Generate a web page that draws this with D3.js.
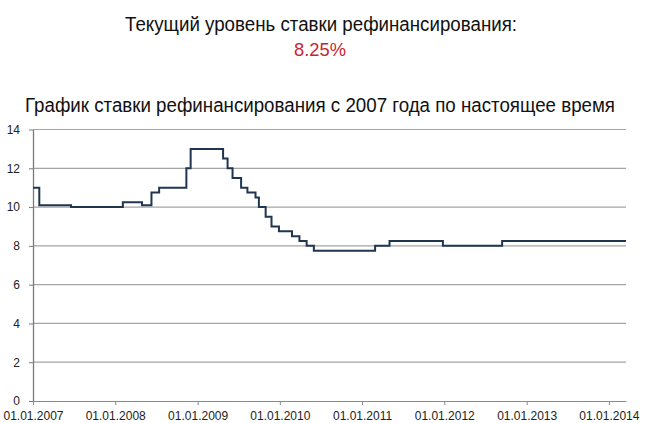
<!DOCTYPE html>
<html><head><meta charset="utf-8">
<script src="https://cdn.jsdelivr.net/npm/d3@7"></script>
<style>body{margin:0;background:#fff}svg{display:block}</style>
</head><body>
<svg id="c" width="670" height="423"></svg>
<script>
const dates = ["2007-01-01","2007-01-29","2007-06-19","2008-02-04","2008-04-29","2008-06-10","2008-07-14","2008-11-12","2008-12-01","2009-04-24","2009-05-14","2009-06-05","2009-07-13","2009-08-10","2009-09-15","2009-09-30","2009-10-30","2009-11-25","2009-12-28","2010-02-24","2010-03-29","2010-04-30","2010-06-01","2011-02-28","2011-05-03","2011-12-26","2012-09-14","2014-03-18"];
const rates = [11,10.1,10,10.25,10.1,10.75,11,12,13,12.5,12,11.5,11,10.75,10.5,10,9.5,9,8.75,8.5,8.25,8,7.75,8,8.25,8,8.25,8.25];
const yTicks = [0,2,4,6,8,10,12,14];
const xTickYears = [2007,2008,2009,2010,2011,2012,2013,2014];
const title1 = "Текущий уровень ставки рефинансирования:";
const currentRate = "8.25%";
const title2 = "График ставки рефинансирования с 2007 года по настоящее время";

const parse = d3.timeParse("%Y-%m-%d");
const data = dates.map((d,i)=>({date:parse(d), v:rates[i]}));
const svg = d3.select("#c");
const font = "'Liberation Sans', Arial, sans-serif";

const x = d3.scaleTime().domain([parse("2007-01-01"), parse("2014-03-18")]).range([33, 626]);
const y = d3.scaleLinear().domain([0,14]).range([401, 129.5]);

// titles
svg.append("text").attr("x",321).attr("y",30.5).attr("text-anchor","middle")
  .attr("font-family",font).attr("font-size",20).attr("fill","#111")
  .attr("textLength",392).attr("lengthAdjust","spacingAndGlyphs").text(title1);
svg.append("text").attr("x",320).attr("y",56).attr("text-anchor","middle")
  .attr("font-family",font).attr("font-size",18.5).attr("fill","#c8262f")
  .attr("textLength",52).attr("lengthAdjust","spacingAndGlyphs").text(currentRate);
svg.append("text").attr("x",320).attr("y",111.5).attr("text-anchor","middle")
  .attr("font-family",font).attr("font-size",20).attr("fill","#111")
  .attr("textLength",590).attr("lengthAdjust","spacingAndGlyphs").text(title2);

// gridlines
svg.append("g").selectAll("line").data(yTicks.filter(t=>t>0)).join("line")
  .attr("x1",33).attr("x2",626).attr("y1",d=>y(d)).attr("y2",d=>y(d))
  .attr("stroke","#a4a4a4").attr("stroke-width",1.2);

// y axis
const ya = svg.append("g").attr("transform","translate(33,0)")
  .call(d3.axisLeft(y).tickValues(yTicks).tickSize(4).tickPadding(9).tickSizeOuter(0));
ya.select(".domain").attr("stroke","#7a7a7a").attr("stroke-width",1.3);
ya.selectAll(".tick line").attr("stroke","#7a7a7a");
ya.selectAll("text").attr("font-family",font).attr("font-size",12).attr("fill","#222");

// x axis
const xa = svg.append("g").attr("transform","translate(0,401)")
  .call(d3.axisBottom(x).tickValues(xTickYears.map(yr=>new Date(yr,0,1)))
    .tickFormat(d3.timeFormat("%d.%m.%Y")).tickSize(4).tickPadding(6).tickSizeOuter(0));
xa.select(".domain").attr("stroke","#8a8a8a").attr("stroke-width",1.2);
xa.selectAll(".tick line").attr("stroke","#8a8a8a");
xa.selectAll("text").attr("font-family",font).attr("font-size",12).attr("fill","#222");

// line
svg.append("path").datum(data)
  .attr("d", d3.line().x(d=>x(d.date)).y(d=>y(d.v)).curve(d3.curveStepAfter))
  .attr("fill","none").attr("stroke","#1f3550").attr("stroke-width",2);
</script>
</body></html>
